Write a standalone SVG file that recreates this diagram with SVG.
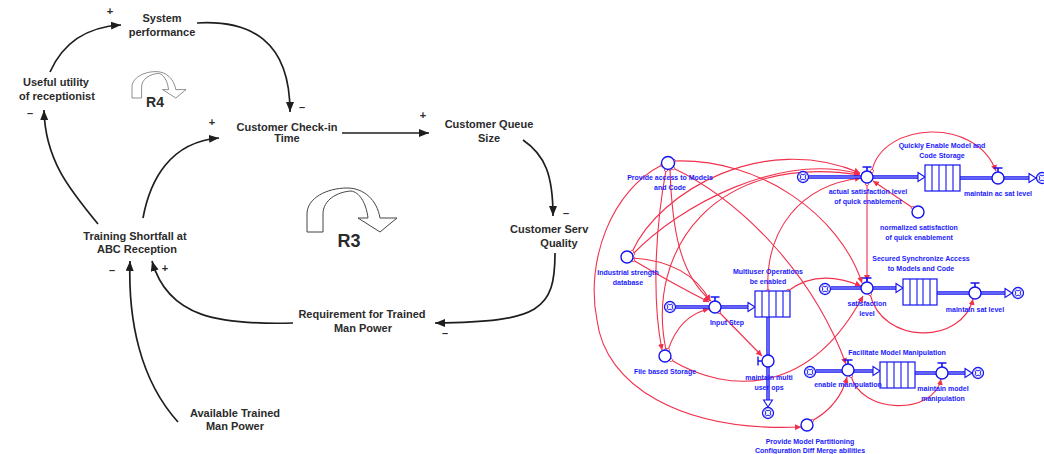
<svg xmlns="http://www.w3.org/2000/svg" width="1044" height="454" viewBox="0 0 1044 454">
  <style>
    .cl { font-family: "Liberation Sans", Arial, sans-serif; font-weight: bold; font-size: 11px; fill: #2b2b2b; text-anchor: middle; }
    .sg { font-family: "Liberation Sans", Arial, sans-serif; font-weight: bold; font-size: 11px; fill: #2b2b2b; text-anchor: middle; }
    .rl { font-family: "Liberation Sans", Arial, sans-serif; font-weight: bold; fill: #2b2b2b; text-anchor: middle; }
    .link { fill: none; stroke: #1e1e1e; stroke-width: 1.7; marker-end: url(#arrowK); }
    .loop { fill: #fff; stroke: #444; stroke-width: 1; stroke-linejoin: round; }
    .sf { font-family: "Liberation Sans", Arial, sans-serif; font-weight: bold; font-size: 7px; fill: #1a1aff; text-anchor: middle; }
    .aux { fill: #fff; stroke: #1414f0; stroke-width: 1.4; }
    .pipe { fill: none; stroke: #1414f0; stroke-width: 3.4; }
    .pipein { fill: none; stroke: #d8d8ff; stroke-width: 0.8; }
    .stock { fill: #fff; stroke: #1414f0; stroke-width: 1.2; }
    .cell { stroke: #1414f0; stroke-width: 1.1; }
    .head { fill: #fff; stroke: #1414f0; stroke-width: 1.1; }
    .handle { fill: none; stroke: #1414f0; stroke-width: 1.4; }
    .rc { fill: none; stroke: #f2304c; stroke-width: 1.1; marker-end: url(#arrowR); marker-start: url(#tailR); }
  </style>
  <defs>
    <marker id="arrowK" markerUnits="userSpaceOnUse" markerWidth="11" markerHeight="9" refX="10" refY="4" orient="auto">
      <path d="M0,0 L10,4 L0,8 z" fill="#1e1e1e"/>
    </marker>
    <marker id="arrowR" markerUnits="userSpaceOnUse" markerWidth="7" markerHeight="6" refX="6" refY="3" orient="auto">
      <path d="M0,0 L6,3 L0,6 z" fill="#f2304c"/>
    </marker>
    <marker id="tailR" markerUnits="userSpaceOnUse" markerWidth="5" markerHeight="5" refX="2.5" refY="2.5" orient="auto">
      <circle cx="2.5" cy="2.5" r="1.6" fill="#fff" stroke="#f2304c" stroke-width="0.8"/>
    </marker>
    <g id="cloud">
      <circle r="5.5" fill="#fff" stroke="#1414f0" stroke-width="1.3"/>
      <path d="M-2.5,-3.2 Q0,-1 2.5,-3.2 M3.2,-2.5 Q1,0 3.2,2.5 M2.5,3.2 Q0,1 -2.5,3.2 M-3.2,2.5 Q-1,0 -3.2,-2.5" fill="none" stroke="#1414f0" stroke-width="1"/>
    </g>
    <g id="valve">
      <circle r="6" fill="#fff" stroke="#1414f0" stroke-width="1.4"/>
      <path d="M-4.5,-10 L4.5,-10 M0,-10 L0,-6" fill="none" stroke="#1414f0" stroke-width="1.6"/>
    </g>
    <path id="loopArrow" d="M0,0 L0,-18 C0,-34 20,-44 40,-44 C57,-44 70,-32 73,-14 L90,-14 L73,0 L51,-14 L61,-14 C59,-30 52,-40 44,-41 C30,-40 16,-32 16,-18 L16,0 Z"/>
  </defs>

  <!-- ===== Causal loop diagram ===== -->
  <g id="cld-links">
    <path class="link" d="M50,72 C62,45 85,27 121,25"/>
    <path class="link" d="M197,23 C250,20 290,40 290,112"/>
    <path class="link" d="M98,224 C70,190 45,160 44,110"/>
    <path class="link" d="M143,218 C150,180 170,142 219,138"/>
    <path class="link" d="M342,133 L429,133"/>
    <path class="link" d="M523,140 C545,155 553,175 553,216"/>
    <path class="link" d="M555,253 C555,310 540,322 435,323"/>
    <path class="link" d="M293,323 C220,325 168,318 152,261"/>
    <path class="link" d="M178,422 C140,380 128,320 130,261"/>
  </g>

  <g id="cld-signs">
    <text class="sg" x="110" y="15">+</text>
    <text class="sg" x="302" y="111">–</text>
    <text class="sg" x="30" y="117">–</text>
    <text class="sg" x="212" y="126">+</text>
    <text class="sg" x="423" y="119">+</text>
    <text class="sg" x="566" y="217">–</text>
    <text class="sg" x="445" y="337">–</text>
    <text class="sg" x="112" y="274">–</text>
    <text class="sg" x="165" y="272">+</text>
  </g>

  <g id="system-performance">
    <text class="cl" x="162" y="22">System</text>
    <text class="cl" x="162" y="36">performance</text>
  </g>
  <g id="useful-utility">
    <text class="cl" x="56" y="86">Useful utility</text>
    <text class="cl" x="57" y="100">of receptionist</text>
  </g>
  <g id="check-in-time">
    <text class="cl" x="287" y="131">Customer Check-in</text>
    <text class="cl" x="287" y="142">Time</text>
  </g>
  <g id="queue-size">
    <text class="cl" x="489" y="128">Customer Queue</text>
    <text class="cl" x="489" y="142">Size</text>
  </g>
  <g id="service-quality">
    <text class="cl" x="510" y="233" style="text-anchor:start">Customer Serv</text>
    <text class="cl" x="559" y="247">Quality</text>
  </g>
  <g id="requirement">
    <text class="cl" x="362" y="318">Requirement for Trained</text>
    <text class="cl" x="363" y="332">Man Power</text>
  </g>
  <g id="training-shortfall">
    <text class="cl" x="135" y="240">Training Shortfall at</text>
    <text class="cl" x="137" y="253">ABC Reception</text>
  </g>
  <g id="available-manpower">
    <text class="cl" x="235" y="417">Available Trained</text>
    <text class="cl" x="235" y="430">Man Power</text>
  </g>

  <g id="loop-r4">
    <use href="#loopArrow" class="loop" transform="translate(132,98) scale(0.6)"/>
    <text class="rl" x="155" y="107" font-size="14">R4</text>
  </g>
  <g id="loop-r3">
    <use href="#loopArrow" class="loop" transform="translate(307,232)"/>
    <text class="rl" x="349" y="247" font-size="18">R3</text>
  </g>

  <!-- ===== Stock and flow model ===== -->
  <g id="sf-links">
    <path class="rc" d="M872,171 C882,122 976,116 996,171"/>
    <path class="rc" d="M913,208 L873,181"/>
    <path class="rc" d="M867,184 L867,281"/>
    <path class="rc" d="M870,294 C882,345 962,345 973,299"/>
    <path class="rc" d="M851,376 C862,415 934,415 941,379"/>
    <path class="rc" d="M812,421 Q840,405 847,377"/>
    <path class="rc" d="M662,165 C612,190 585,260 597,320 C605,385 680,432 801,427"/>
    <path class="rc" d="M666,170 C655,230 652,300 662,350"/>
    <path class="rc" d="M666,350 C645,250 715,152 860,175"/>
    <path class="rc" d="M633,254 C680,205 780,152 860,174"/>
    <path class="rc" d="M632,252 C660,190 765,132 860,173"/>
    <path class="rc" d="M674,161 C760,158 840,215 862,283"/>
    <path class="rc" d="M673,168 C740,200 812,272 846,364"/>
    <path class="rc" d="M670,169 C672,230 680,275 711,301"/>
    <path class="rc" d="M633,258 Q690,262 710,301"/>
    <path class="rc" d="M633,260 Q675,285 709,302"/>
    <path class="rc" d="M668,350 Q680,315 709,309"/>
    <path class="rc" d="M719,312 L762,356"/>
    <path class="rc" d="M671,360 C730,395 810,395 863,296"/>
    <path class="rc" d="M788,291 Q818,268 861,286"/>
    <path class="rc" d="M768,291 C765,230 800,185 861,178"/>
  </g>

  <g id="provide-access">
    <circle class="aux" cx="668" cy="163" r="6.5" stroke-width="2"/>
    <text class="sf" x="670" y="180">Provide access to Models</text>
    <text class="sf" x="670" y="190">and Code</text>
  </g>
  <g id="industrial-db">
    <circle class="aux" cx="627" cy="257" r="6"/>
    <text class="sf" x="628" y="275">Industrial strength</text>
    <text class="sf" x="628" y="285">database</text>
  </g>
  <g id="file-storage">
    <circle class="aux" cx="665" cy="356" r="6"/>
    <text class="sf" x="665" y="374">File based Storage</text>
  </g>
  <g id="normalized-sat">
    <circle class="aux" cx="918" cy="212" r="6"/>
    <text class="sf" x="919" y="230">normalized satisfaction</text>
    <text class="sf" x="919" y="240">of quick enablement</text>
  </g>
  <g id="model-partitioning">
    <circle class="aux" cx="807" cy="425" r="6"/>
    <text class="sf" x="810" y="444">Provide Model Partitioning</text>
    <text class="sf" x="810" y="453">Configuration Diff Merge abilities</text>
  </g>

  <g id="quick-enable">
    <path class="pipe" d="M809,177 L861,177 M873,177 L919,177 M960,178 L992,178 M1004,178 L1030,178"/>
    <path class="pipein" d="M809,177 L861,177 M873,177 L919,177 M960,178 L992,178 M1004,178 L1030,178"/>
    <polygon class="head" points="918,172.5 925,177 918,181.5"/>
    <polygon class="head" points="1029,173.5 1036,178 1029,182.5"/>
    <use href="#cloud" x="803" y="177"/>
    <use href="#cloud" x="1042" y="178"/>
    <rect class="stock" x="925" y="165" width="35" height="26"/>
    <path class="cell" d="M932,165 V191 M939,165 V191 M946,165 V191 M953,165 V191"/>
    <use href="#valve" x="867" y="177"/>
    <use href="#valve" x="998" y="178"/>
    <text class="sf" x="942" y="148">Quickly Enable Model and</text>
    <text class="sf" x="942" y="158">Code Storage</text>
    <text class="sf" x="868" y="194">actual satisfaction level</text>
    <text class="sf" x="868" y="204">of quick enablement</text>
    <text class="sf" x="998" y="196">maintain ac sat level</text>
  </g>

  <g id="secured-access">
    <path class="pipe" d="M831,288 L861,288 M873,288 L897,288 M937,293 L969,293 M981,293 L1006,293"/>
    <path class="pipein" d="M831,288 L861,288 M873,288 L897,288 M937,293 L969,293 M981,293 L1006,293"/>
    <polygon class="head" points="896,283.5 903,288 896,292.5"/>
    <polygon class="head" points="1005,288.5 1012,293 1005,297.5"/>
    <use href="#cloud" x="825" y="289"/>
    <use href="#cloud" x="1018" y="293"/>
    <rect class="stock" x="903" y="279" width="34" height="26"/>
    <path class="cell" d="M910,279 V305 M917,279 V305 M923,279 V305 M930,279 V305"/>
    <use href="#valve" x="867" y="288"/>
    <use href="#valve" x="975" y="293"/>
    <text class="sf" x="921" y="261">Secured Synchronize Access</text>
    <text class="sf" x="921" y="271">to Models and Code</text>
    <text class="sf" x="867" y="306">satisfaction</text>
    <text class="sf" x="867" y="316">level</text>
    <text class="sf" x="975" y="312">maintain sat level</text>
  </g>

  <g id="multiuser-ops">
    <path class="pipe" d="M676,307 L709,307 M721,307 L749,307 M768,317 L768,355 M768,367 L768,401"/>
    <path class="pipein" d="M676,307 L709,307 M721,307 L749,307 M768,317 L768,355 M768,367 L768,401"/>
    <polygon class="head" points="748,302.5 755,307 748,311.5"/>
    <polygon class="head" points="763.5,400 768,407 772.5,400"/>
    <use href="#cloud" x="670" y="307"/>
    <use href="#cloud" x="768" y="413"/>
    <rect class="stock" x="755" y="291" width="35" height="26"/>
    <path class="cell" d="M762,291 V317 M769,291 V317 M776,291 V317 M783,291 V317"/>
    <use href="#valve" x="715" y="307"/>
    <circle class="aux" cx="768" cy="361" r="6"/>
    <path class="handle" d="M758,356.5 L758,365.5 M758,361 L762,361"/>
    <text class="sf" x="768" y="274">Multiuser Operations</text>
    <text class="sf" x="768" y="284">be enabled</text>
    <text class="sf" x="727" y="325">Input Step</text>
    <text class="sf" x="769" y="380">maintain multi</text>
    <text class="sf" x="769" y="390">user ops</text>
  </g>

  <g id="model-manipulation">
    <path class="pipe" d="M816,371 L842,371 M854,371 L874,371 M915,373 L936,373 M948,373 L966,373"/>
    <path class="pipein" d="M816,371 L842,371 M854,371 L874,371 M915,373 L936,373 M948,373 L966,373"/>
    <polygon class="head" points="873,366.5 880,371 873,375.5"/>
    <polygon class="head" points="965,368.5 972,373 965,377.5"/>
    <use href="#cloud" x="810" y="372"/>
    <use href="#cloud" x="978" y="373"/>
    <rect class="stock" x="880" y="362" width="35" height="26"/>
    <path class="cell" d="M887,362 V388 M894,362 V388 M901,362 V388 M908,362 V388"/>
    <use href="#valve" x="848" y="370"/>
    <use href="#valve" x="942" y="373"/>
    <text class="sf" x="897" y="355">Facilitate Model Manipulation</text>
    <text class="sf" x="848" y="387">enable manipulation</text>
    <text class="sf" x="943" y="391">maintain model</text>
    <text class="sf" x="943" y="401">manipulation</text>
  </g>
</svg>
